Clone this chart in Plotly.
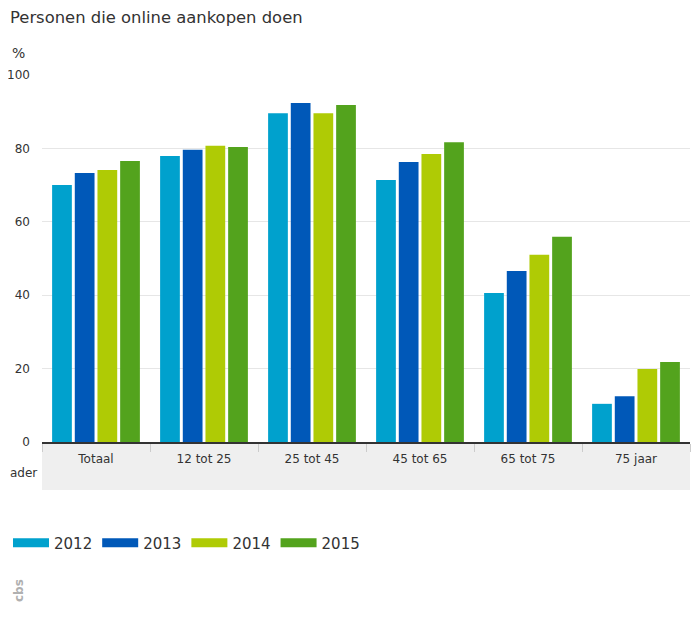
import plotly.graph_objects as go

categories = ["Totaal", "12 tot 25", "25 tot 45", "45 tot 65", "65 tot 75", "75 jaar"]
years = ["2012", "2013", "2014", "2015"]
v2012 = [70.0, 77.9, 89.6, 71.4, 40.6, 10.4]
v2013 = [73.3, 79.6, 92.4, 76.3, 46.6, 12.5]
v2014 = [74.1, 80.7, 89.6, 78.5, 51.0, 19.9]
v2015 = [76.6, 80.4, 91.8, 81.7, 55.9, 21.8]
y_ticks = [0, 20, 40, 60, 80, 100]

COLORS = ["#00a1cd", "#0058b8", "#afcb05", "#53a31d"]
FONT = "DejaVu Sans"
W, H = 684, 610
PW, PH = 648, 367  # plot area size in px

fig = go.Figure()
for name, vals, col in zip(years, [v2012, v2013, v2014, v2015], COLORS):
    fig.add_trace(go.Bar(
        x=categories, y=vals, name=name, showlegend=False,
        marker=dict(color=col, line=dict(width=0)),
    ))
# legend entries drawn as thick lines -> wide flat swatches like the original
for name, col in zip(years, COLORS):
    fig.add_trace(go.Scatter(
        x=[None], y=[None], name=name, mode="lines",
        line=dict(color=col, width=9),
    ))

# grey band under the category axis
fig.add_shape(
    type="rect", xref="paper", yref="paper",
    x0=0, x1=1, y0=-48 / PH, y1=0,
    fillcolor="#efefef", line=dict(width=0), layer="below",
)

fig.add_annotation(
    text="Personen die online aankopen doen", xref="paper", yref="paper",
    x=-34 / PW, y=1 + 58 / PH, xanchor="left", yanchor="middle",
    showarrow=False, font=dict(family=FONT, size=16.4, color="#333333"),
)
fig.add_annotation(
    text="%", xref="paper", yref="paper",
    x=-32 / PW, y=1 + 22 / PH, xanchor="left", yanchor="middle",
    showarrow=False, font=dict(family=FONT, size=14, color="#333333"),
)
fig.add_annotation(
    text="ader", xref="paper", yref="paper",
    x=-34 / PW, y=-31 / PH, xanchor="left", yanchor="middle",
    showarrow=False, font=dict(family=FONT, size=12, color="#333333"),
)
# small cbs mark bottom left
fig.add_annotation(
    text="<b>cbs</b>", xref="paper", yref="paper",
    x=-23 / PW, y=-149 / PH, xanchor="center", yanchor="middle",
    textangle=-90, showarrow=False,
    font=dict(family=FONT, size=12, color="#b0b0b0"),
)

fig.update_xaxes(
    showgrid=False, showline=True, linecolor="#333333", linewidth=2,
    ticks="outside", tickson="boundaries", ticklen=8, tickcolor="#cccccc",
    ticklabelstandoff=5,
    tickfont=dict(family=FONT, size=12, color="#333333"),
)
fig.update_yaxes(
    range=[0, 100], tickvals=y_ticks, showgrid=True, gridcolor="#e6e6e6",
    zeroline=False, showline=False, ticks="", ticklabelstandoff=11,
    tickfont=dict(family=FONT, size=12, color="#333333"),
)

fig.update_layout(
    width=W, height=H,
    margin=dict(l=34, r=2, t=67, b=176, autoexpand=False),
    barmode="group", bargap=0.16, bargroupgap=0.13,
    plot_bgcolor="white", paper_bgcolor="white",
    font=dict(family=FONT, color="#333333"),
    legend=dict(
        orientation="h", xref="container", yref="container",
        x=0, y=75 / H, xanchor="left", yanchor="middle",
        font=dict(family=FONT, size=15, color="#333333"),
        itemwidth=36,
    ),
)

fig.write_html("out.html")
